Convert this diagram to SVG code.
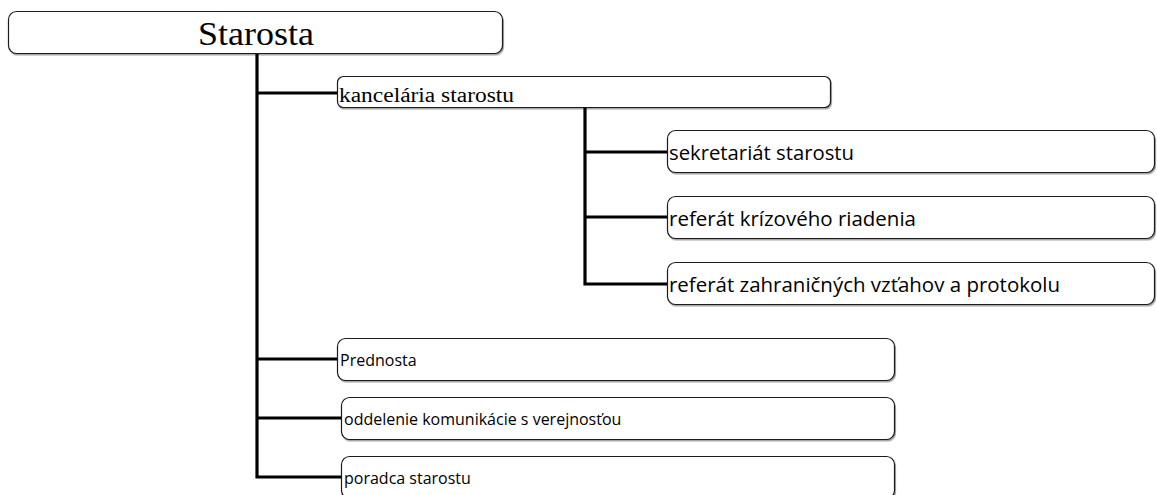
<svg xmlns="http://www.w3.org/2000/svg" width="1157" height="495" viewBox="0 0 1157 495">
  <defs>
    <filter id="soft" x="-5%" y="-20%" width="110%" height="150%">
      <feDropShadow dx="1" dy="1.5" stdDeviation="0.6" flood-color="#000" flood-opacity="0.35"/>
    </filter>
  </defs>
  <style>
    .box { fill: #ffffff; stroke: #1a1a1a; stroke-width: 1.2; filter: url(#soft); }
    .serif { font-family: "Liberation Serif", "Times New Roman", serif; fill: #000; }
    .sans { font-family: "Open Sans", "Noto Sans", sans-serif; fill: #000; }
    .sub { font-size: 19.5px; }
    .unit { font-size: 16px; }
    .link { stroke: #000; stroke-width: 3.2; fill: none; }
  </style>
  <rect width="1157" height="495" fill="#ffffff"/>

  <!-- connectors -->
  <g id="connectors">
    <path class="link" d="M257 54 V477 H341"/>
    <path class="link" d="M257 93 H337"/>
    <path class="link" d="M257 359 H337"/>
    <path class="link" d="M257 418 H341"/>
    <path class="link" d="M585 108 V284 H667"/>
    <path class="link" d="M585 152 H667"/>
    <path class="link" d="M585 217 H667"/>
  </g>

  <!-- top level -->
  <g id="node-starosta">
    <rect class="box" x="8.5" y="11.5" width="494" height="42" rx="8"/>
    <text class="serif" x="198" y="45" font-size="33" textLength="116" lengthAdjust="spacingAndGlyphs">Starosta</text>
  </g>

  <g id="node-kancelaria">
    <rect class="box" x="337.5" y="76.5" width="493" height="31" rx="6"/>
    <text class="serif" x="339" y="101.5" font-size="20" textLength="175" lengthAdjust="spacingAndGlyphs">kancelária starostu</text>
  </g>

  <!-- office sub-units -->
  <g id="node-sekretariat">
    <rect class="box" x="667.5" y="130.5" width="487" height="42" rx="8"/>
    <text class="sans sub" x="669" y="160" textLength="185" lengthAdjust="spacingAndGlyphs">sekretariát starostu</text>
  </g>

  <g id="node-krizove">
    <rect class="box" x="667.5" y="196.5" width="487" height="42" rx="8"/>
    <text class="sans sub" x="669" y="226" textLength="247" lengthAdjust="spacingAndGlyphs">referát krízového riadenia</text>
  </g>

  <g id="node-zahranicne">
    <rect class="box" x="667.5" y="262.5" width="487" height="42" rx="8"/>
    <text class="sans sub" x="669" y="292" textLength="391" lengthAdjust="spacingAndGlyphs">referát zahraničných vzťahov a protokolu</text>
  </g>

  <!-- other units -->
  <g id="node-prednosta">
    <rect class="box" x="337.5" y="338.5" width="557" height="42" rx="8"/>
    <text class="sans unit" x="340" y="366">Prednosta</text>
  </g>

  <g id="node-komunikacia">
    <rect class="box" x="341.5" y="397.5" width="553" height="42" rx="8"/>
    <text class="sans unit" x="344" y="425">oddelenie komunikácie s verejnosťou</text>
  </g>

  <g id="node-poradca">
    <rect class="box" x="341.5" y="456.5" width="553" height="42" rx="8"/>
    <text class="sans unit" x="344" y="484">poradca starostu</text>
  </g>
</svg>
